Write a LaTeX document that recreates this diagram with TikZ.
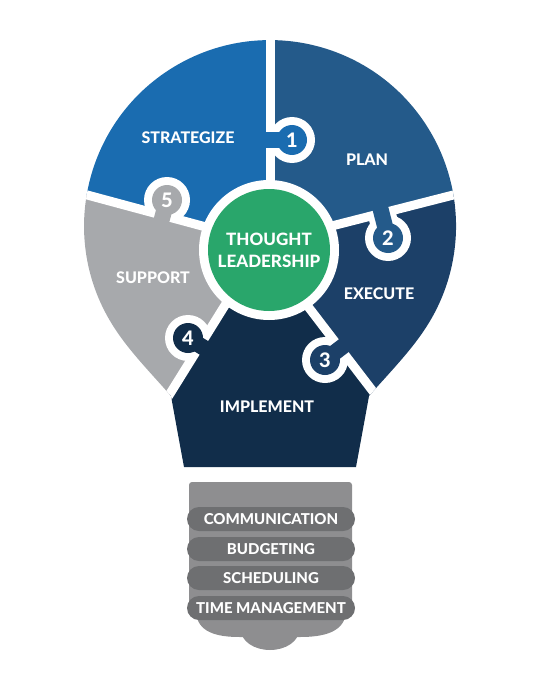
\documentclass[tikz,border=0pt]{standalone}
\usepackage{fontspec}
\setmainfont{Lato}
\IfFontExistsTF{Lato Heavy}{\newfontfamily\heavyfont{Lato Heavy}}{%
  \IfFontExistsTF{Lato Black}{\newfontfamily\heavyfont{Lato Black}}{\def\heavyfont{\bfseries}}}
\usetikzlibrary{calc}

\definecolor{stratblue}{RGB}{26,108,176}
\definecolor{planblue}{RGB}{36,90,138}
\definecolor{execblue}{RGB}{28,64,104}
\definecolor{implblue}{RGB}{17,45,74}
\definecolor{suppgrey}{RGB}{167,169,172}
\definecolor{coregreen}{RGB}{41,166,107}
\definecolor{baselight}{RGB}{142,142,144}
\definecolor{basedark}{RGB}{110,111,113}

\begin{document}
\begin{tikzpicture}[x=1pt,y=-1pt,
  lbl/.style={text=white, inner sep=0pt, font=\fontsize{16}{22}\selectfont\heavyfont},
  tool/.style={text=white, inner sep=0pt, font=\fontsize{15}{17}\selectfont\heavyfont},
  num/.style={text=white, inner sep=0pt, font=\fontsize{20}{22}\selectfont\heavyfont},
  gap/.style={white, line width=9pt},
  pill/.style={fill=basedark, rounded corners=12pt}]

  \useasboundingbox (0,0) rectangle (541,682);

  \coordinate (g) at (269,250);
  \coordinate (i1) at (270,250);   \coordinate (o1) at (270,-10);
  \coordinate (i2) at (269,242);   \coordinate (o2) at (520,178);
  \coordinate (i3) at (264,249);   \coordinate (o3) at (502,560);
  \coordinate (i4) at (260,249);   \coordinate (o4) at (66.6,560);
  \coordinate (i5) at (269,244);   \coordinate (o5) at (-50,158);

  % bulb
  \begin{scope}
    \clip (184,467) .. controls (179,440) and (175,418) .. (171,396)
      .. controls (150,372) and (127,349) .. (111.3,323)
      arc[start angle=148.6, end angle=391.4, radius=186]
      .. controls (413,349) and (390,372) .. (369,396)
      .. controls (365,418) and (361,440) .. (356,467) -- cycle;

    \fill[stratblue] (g) -- (i5) -- (o5) -- (-50,-10) -- (o1) -- (i1) -- cycle;
    \fill[planblue] (g) -- (i1) -- (o1) -- (560,-10) -- (o2) -- (i2) -- cycle;
    \fill[execblue] (g) -- (i2) -- (o2) -- (560,560) -- (o3) -- (i3) -- cycle;
    \fill[implblue] (g) -- (i3) -- (o3) -- (502,700) -- (66,700) -- (o4) -- (i4) -- cycle;
    \fill[suppgrey] (g) -- (i4) -- (o4) -- (-50,560) -- (o5) -- (i5) -- cycle;

    \draw[gap] (i1) -- (o1);
    \draw[gap] (i2) -- (o2);
    \draw[gap] (i3) -- (o3);
    \draw[gap] (i4) -- (o4);
    \draw[gap] (i5) -- (o5);

    \fill[white] (g) circle (70);
    \fill[coregreen] (g) circle (61);

    % puzzle knobs
    \foreach \kx/\ky/\a/\d/\col/\n in {292/140/180/22/stratblue/1,
        388/238/255.6/26/planblue/2, 325/360/322.6/19/execblue/3,
        188/338/31.8/14/implblue/4, 167/200/105.1/16/suppgrey/5}{
      \begin{scope}[shift={(\kx,\ky)}]
        \begin{scope}
          \clip ($(\a:\d)+(\a+90:60)$) -- ($(\a:\d)+(\a-90:60)$)
            -- ($({\a}:{\d-90})+(\a-90:60)$) -- ($({\a}:{\d-90})+(\a+90:60)$) -- cycle;
          \fill[white] (0,0) circle (23);
          \draw[white, line width=28pt] (0,0) -- (\a:\d);
        \end{scope}
        \fill[\col] (0,0) circle (15);
        \draw[\col, line width=16pt] (0,0) -- ({\a}:{\d+12});
        \node[num] (k\n) at (0,0) {\n};
      \end{scope}
    }
  \end{scope}

  \node[lbl] (strategize) at (188,138) {STRATEGIZE};
  \node[lbl] (plan) at (367,160) {PLAN};
  \node[lbl] (execute) at (379,294) {EXECUTE};
  \node[lbl] (implement) at (267,407) {IMPLEMENT};
  \node[lbl] (support) at (153,278) {SUPPORT};
  \node[lbl, font=\fontsize{17}{22}\selectfont\heavyfont, align=center] (core) at (269,250) {THOUGHT\\LEADERSHIP};

  % base
  \fill[baselight, rounded corners=3pt] (189,482) rectangle (352,615);
  \fill[baselight] (196,610) -- (346,610) .. controls (346,633) and (322,637) .. (300,637)
    -- (240,637) .. controls (218,637) and (196,633) .. (196,610) -- cycle;
  \fill[baselight] (299,630) arc[start angle=0, end angle=180, x radius=29, y radius=20] -- cycle;

  \foreach \y/\t [count=\i] in {519/COMMUNICATION, 549/BUDGETING, 578/SCHEDULING, 608/TIME MANAGEMENT}{
    \fill[pill] (187,\y-12) rectangle (355,\y+12);
    \node[tool] (tool\i) at (271,\y) {\t};
  }

\end{tikzpicture}
\end{document}
